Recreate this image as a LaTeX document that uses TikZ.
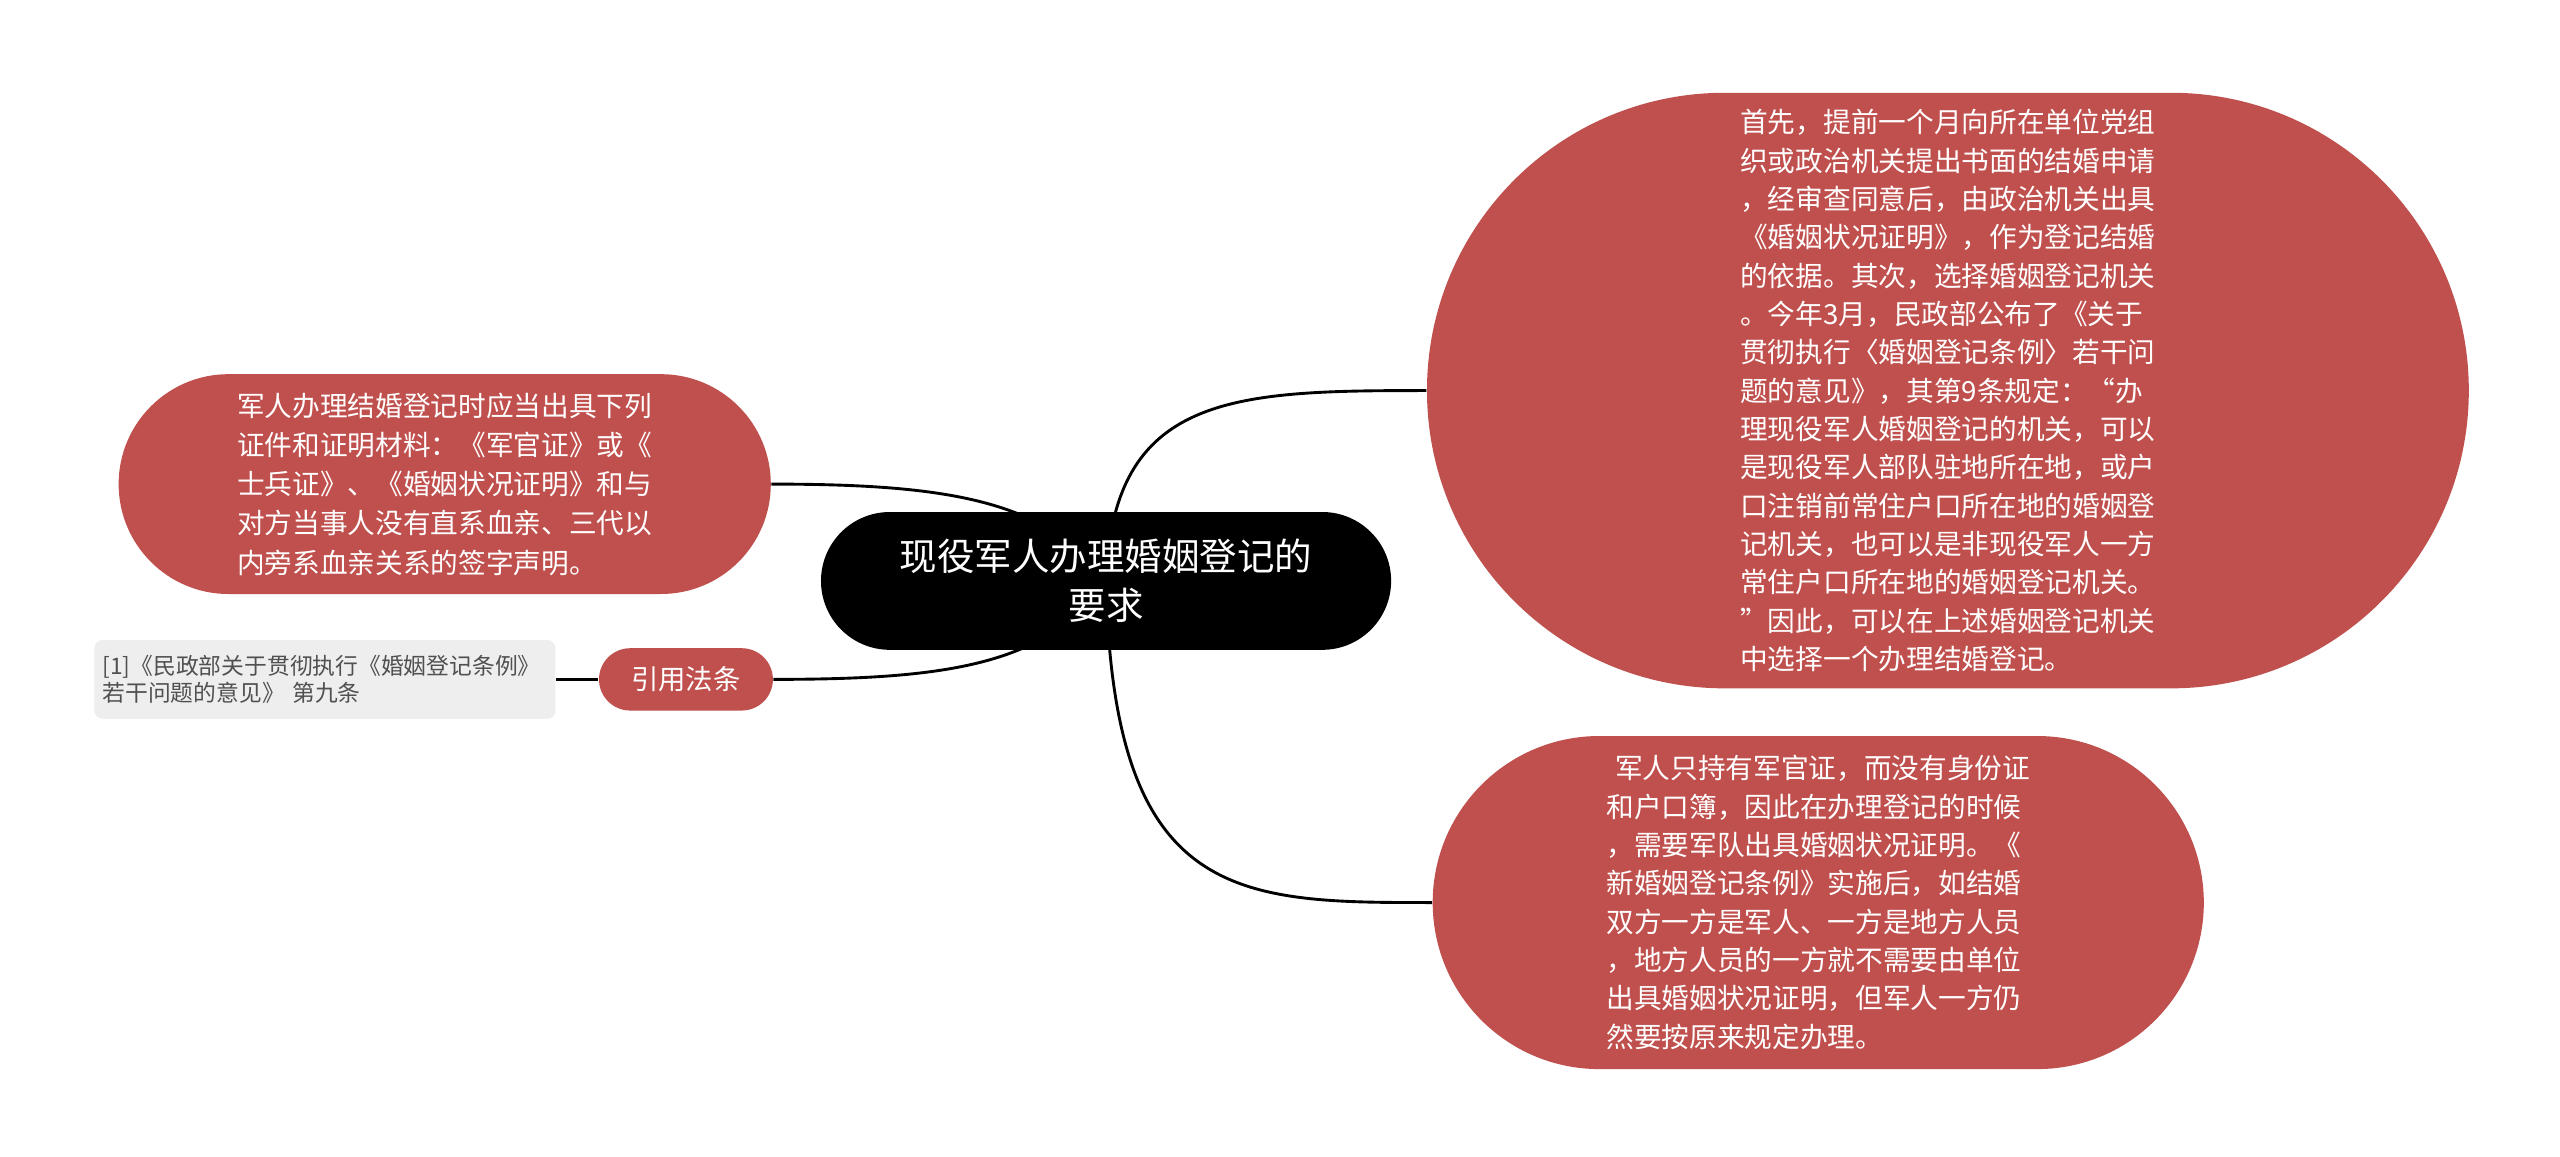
\documentclass[tikz,border=0pt]{standalone}
\usepackage{fontspec}
\setmainfont{Noto Sans CJK SC}
\usetikzlibrary{shapes.misc,backgrounds}
\definecolor{topicred}{HTML}{C0504D}
\definecolor{notegray}{HTML}{EEEEEE}
\definecolor{notetext}{HTML}{505050}
\tikzset{
  root/.style={rounded rectangle, fill=black, text=white, align=center, inner sep=0pt,
    font=\fontsize{13pt}{17pt}\selectfont},
  topic/.style={rounded rectangle, fill=topicred, text=white, align=left, inner sep=0pt,
    font=\fontsize{9.6pt}{13.3pt}\selectfont},
  note/.style={rectangle, rounded corners=0.1cm, fill=notegray, text=notetext, align=left,
    inner sep=0pt, font=\fontsize{7.9pt}{9.6pt}\selectfont},
  link/.style={line width=1pt, black},
}
\begin{document}
\begin{tikzpicture}[x=0.02cm, y=-0.02cm]
    \useasboundingbox (0,0) rectangle (1560,705);

    % Root
    \node[root, minimum width=6.95cm, minimum height=1.68cm] (root) at (674,354)
        {现役军人办理婚姻登记的\\要求};

    % Right side topics
    \node[topic, minimum width=12.7cm, minimum height=7.26cm] (place) at (1187,238)
        {首先，提前一个月向所在单位党组\\
         织或政治机关提出书面的结婚申请\\
         ，经审查同意后，由政治机关出具\\
         《婚姻状况证明》，作为登记结婚\\
         的依据。其次，选择婚姻登记机关\\
         。今年3月，民政部公布了《关于\\
         贯彻执行〈婚姻登记条例〉若干问\\
         题的意见》，其第9条规定：“办\\
         理现役军人婚姻登记的机关，可以\\
         是现役军人部队驻地所在地，或户\\
         口注销前常住户口所在地的婚姻登\\
         记机关，也可以是非现役军人一方\\
         常住户口所在地的婚姻登记机关。\\
         ”因此，可以在上述婚姻登记机关\\
         中选择一个办理结婚登记。};
    \node[topic, minimum width=9.4cm, minimum height=4.06cm] (proof) at (1108,550)
        {\hspace*{3pt}军人只持有军官证，而没有身份证\\
         和户口簿，因此在办理登记的时候\\
         ，需要军队出具婚姻状况证明。《\\
         新婚姻登记条例》实施后，如结婚\\
         双方一方是军人、一方是地方人员\\
         ，地方人员的一方就不需要由单位\\
         出具婚姻状况证明，但军人一方仍\\
         然要按原来规定办理。};

    % Left side topics
    \node[topic, minimum width=7.95cm, minimum height=2.68cm, font=\fontsize{9.6pt}{13.6pt}\selectfont]
        (papers) at (271,295)
        {军人办理结婚登记时应当出具下列\\
         证件和证明材料：《军官证》或《\\
         士兵证》、《婚姻状况证明》和与\\
         对方当事人没有直系血亲、三代以\\
         内旁系血亲关系的签字声明。};
    \node[topic, align=center, minimum width=2.12cm, minimum height=0.76cm,
        font=\fontsize{9.5pt}{11pt}\selectfont] (cite) at (418,414) {引用法条};
    \node[note, minimum width=5.62cm, minimum height=0.96cm, text width=5.42cm] (law) at (198,414)
        {[1]《民政部关于贯彻执行《婚姻登记条例》\\若干问题的意见》 第九条};

    % Connectors behind the nodes
    \begin{pgfonlayer}{background}
        \fill[white] (0,0) rectangle (1560,705);
        \draw[link] (root.center) .. controls +(4,-114) and +(-118,0) .. (place.west);
        \draw[link] (root.center) .. controls +(4,196) and +(-118,0) .. (proof.west);
        \draw[link] (root.center) .. controls +(-36,-49) and +(108,0) .. (papers.east);
        \draw[link] (root.center) .. controls +(-36,51) and +(107,0) .. (cite.east);
        \draw[link] (law.east) -- (cite.west);
    \end{pgfonlayer}
\end{tikzpicture}
\end{document}
